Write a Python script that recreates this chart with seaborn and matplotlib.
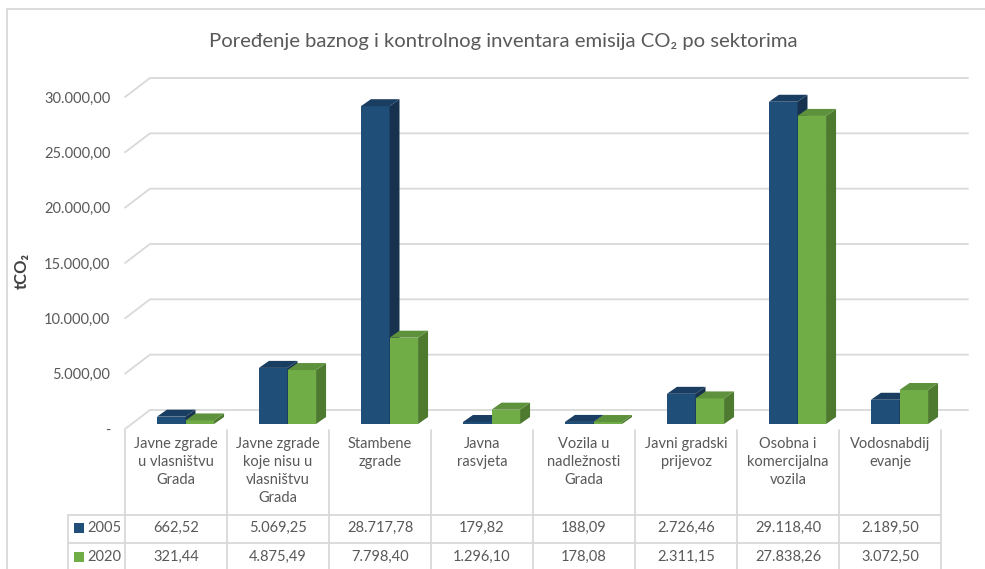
import numpy as np
import pandas as pd
import matplotlib
matplotlib.use("Agg")
import matplotlib.pyplot as plt
import matplotlib.transforms as mtransforms
from matplotlib.patches import Polygon
from matplotlib.lines import Line2D
import seaborn as sns

# data
sektori = [
    "Javne zgrade\nu vlasništvu\nGrada",
    "Javne zgrade\nkoje nisu u\nvlasništvu\nGrada",
    "Stambene\nzgrade",
    "Javna\nrasvjeta",
    "Vozila u\nnadležnosti\nGrada",
    "Javni gradski\nprijevoz",
    "Osobna i\nkomercijalna\nvozila",
    "Vodosnabdij\nevanje",
]
godine = ["2005", "2020"]
emisije_2005 = [662.52, 5069.25, 28717.78, 179.82, 188.09, 2726.46, 29118.40, 2189.50]
emisije_2020 = [321.44, 4875.49, 7798.40, 1296.10, 178.08, 2311.15, 27838.26, 3072.50]
y_ticks = [0, 5000, 10000, 15000, 20000, 25000, 30000]

title = "Poređenje baznog i kontrolnog inventara emisija CO₂ po sektorima"

df = pd.DataFrame({
    "sektor": sektori * 2,
    "godina": [godine[0]] * len(sektori) + [godine[1]] * len(sektori),
    "tCO2": emisije_2005 + emisije_2020,
})

# colours: front, top, side
boje = {
    "2005": ("#1F4E79", "#1A3D62", "#16324F"),
    "2020": ("#70AD47", "#5E913B", "#4E7A30"),
}
grid_c = "#D9D9D9"
text_c = "#595959"


def fmt(v):
    s = f"{v:,.2f}"
    return s.replace(",", "X").replace(".", ",").replace("X", ".")


sns.set_theme(style="white")
plt.rcParams["font.family"] = ["Lato", "DejaVu Sans"]

W, H = 985, 569
fig = plt.figure(figsize=(W / 100, H / 100), dpi=100)

# geometry in pixels (front plane)
x_left, x_right = 125, 941
y_zero = 429
scale = 332 / 30000          # px per tCO2
colpx = (x_right - x_left) / len(sektori)
ymax = 31000
ax = fig.add_axes([x_left / W, 1 - y_zero / H, (x_right - x_left) / W, ymax * scale / H])

sns.barplot(data=df, x="sektor", y="tCO2", hue="godina", order=sektori,
            hue_order=godine, palette=[boje[g][0] for g in godine],
            width=0.56, gap=0, dodge=True, saturation=1, legend=False,
            linewidth=0, ax=ax)

ax.set_xlim(-0.5, len(sektori) - 0.5)
ax.set_ylim(0, ymax)
for s in ax.spines.values():
    s.set_visible(False)
ax.set_xlabel("")
ax.tick_params(axis="x", length=0, labelbottom=False)
ax.set_yticks(y_ticks)
ax.set_yticklabels(["-" if t == 0 else fmt(t) for t in y_ticks])
ax.tick_params(axis="y", length=0, pad=10.5, labelsize=10.5, labelcolor=text_c)
ax.set_ylabel("tCO₂", fontsize=12, fontweight="bold", color="#404040")
ax.yaxis.set_label_coords(-0.117, 0.46)

# back wall gridlines with the 3D stub on the left
bdx = 25 / colpx
bdy = 19 / scale
x_back_end = len(sektori) - 0.5 + 27 / colpx
for t in y_ticks:
    ax.plot([-0.5, -0.5 + bdx, x_back_end], [t, t + bdy, t + bdy],
            color=grid_c, lw=1.3, clip_on=False, zorder=1)

# 3D faces of the bars
sx, sy = 9.5 / colpx, 5 / scale
ddx, ddy = 10 / colpx, 7 / scale
n = len(sektori)
for i, p in enumerate(ax.patches):
    g = godine[i // n]
    front, top_c, side_c = boje[g]
    z = 2 + i // n
    p.set_x(p.get_x() + sx)
    p.set_y(sy)
    p.set_zorder(z)
    x0, y0, w, h = p.get_x(), p.get_y(), p.get_width(), p.get_height()
    top = [(x0, y0 + h), (x0 + w, y0 + h), (x0 + w + ddx, y0 + h + ddy), (x0 + ddx, y0 + h + ddy)]
    side = [(x0 + w, y0), (x0 + w + ddx, y0 + ddy), (x0 + w + ddx, y0 + h + ddy), (x0 + w, y0 + h)]
    ax.add_patch(Polygon(side, closed=True, fc=side_c, ec="none", zorder=z + 0.1, clip_on=False))
    ax.add_patch(Polygon(top, closed=True, fc=top_c, ec="none", zorder=z + 0.2, clip_on=False))

# data table below the chart
tr = mtransforms.blended_transform_factory(ax.transData, fig.transFigure)


def fy(y):
    return 1 - y / H


for k in range(n + 1):
    ax.add_line(Line2D([k - 0.5, k - 0.5], [fy(430), 0], transform=tr, color=grid_c,
                       lw=1.3, clip_on=False))
for yy in (515, 543):
    fig.add_artist(Line2D([68 / W, x_right / W], [fy(yy), fy(yy)], color=grid_c, lw=1.3))
fig.add_artist(Line2D([68 / W, 68 / W], [fy(515), 0], color=grid_c, lw=1.3))

for k, lab in enumerate(sektori):
    ax.text(k, fy(437), lab, transform=tr, ha="center", va="top", fontsize=10.5,
            color=text_c, linespacing=1.37, clip_on=False)
    ax.text(k, fy(528), fmt(emisije_2005[k]), transform=tr, ha="center", va="center",
            fontsize=10.5, color=text_c, clip_on=False)
    ax.text(k, fy(557), fmt(emisije_2020[k]), transform=tr, ha="center", va="center",
            fontsize=10.5, color=text_c, clip_on=False)

for g, yy in zip(godine, (528, 557)):
    fig.patches.append(plt.Rectangle((74 / W, fy(yy + 5)), 10 / W, 10 / H, fc=boje[g][0],
                                     ec="none", transform=fig.transFigure, figure=fig))
    fig.text(87 / W, fy(yy), g, ha="left", va="center", fontsize=10.5, color=text_c)

# title and chart border
fig.text(503 / W, fy(42), title, ha="center", va="center", fontsize=14.6, color=text_c)
fig.add_artist(Line2D([7 / W, 7 / W], [0, fy(9)], color=grid_c, lw=1.3))
fig.add_artist(Line2D([7 / W, 1], [fy(9), fy(9)], color=grid_c, lw=1.3))

fig.savefig("out.png", dpi=100)
